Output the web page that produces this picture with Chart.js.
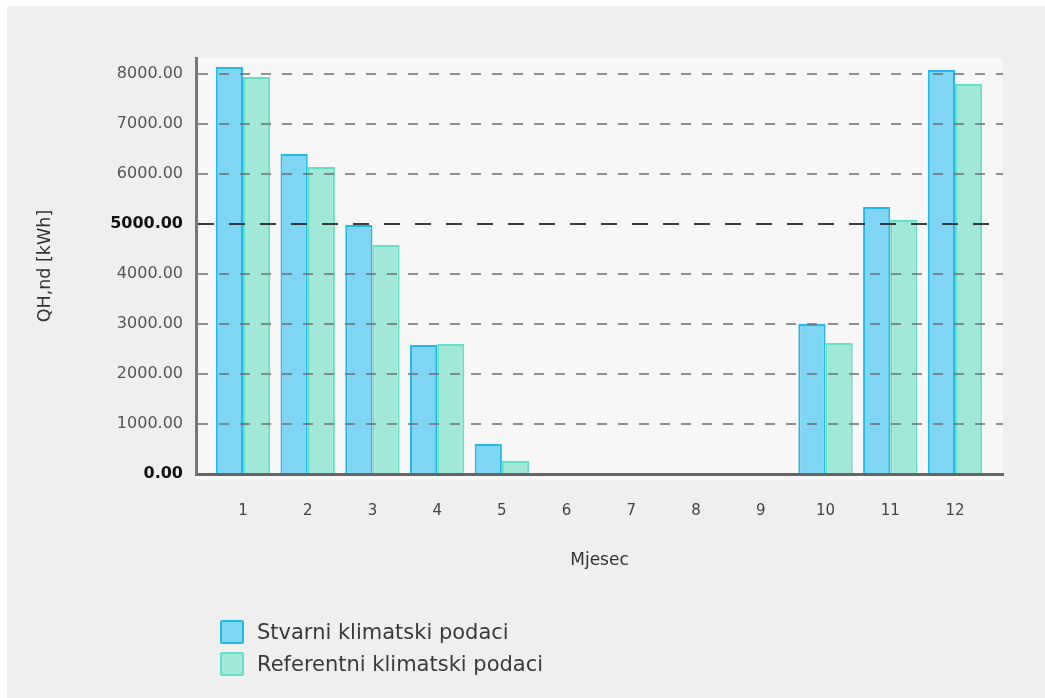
<!DOCTYPE html>
<html>
<head>
<meta charset="utf-8">
<script src="https://cdn.jsdelivr.net/npm/chart.js@4.4.1/dist/chart.umd.min.js"></script>
<style>
  html, body { margin: 0; padding: 0; background: #ffffff; }
  #wrap { position: relative; width: 1045px; height: 698px; overflow: hidden; }
  #panel { position: absolute; left: 7px; top: 6px; width: 1038px; height: 692px; background: #efefef; }
  #chart { position: absolute; left: 0; top: 0; }
  #legend { position: absolute; left: 220px; top: 616px; font-family: "DejaVu Sans", sans-serif; font-size: 21px; color: #3a3a3a; }
  .item { display: flex; align-items: center; height: 32px; }
  .box { width: 20px; height: 20px; border: 2px solid; margin-right: 13px; border-radius: 2px; box-sizing: content-box; }
</style>
</head>
<body>
<div id="wrap">
  <div id="panel"></div>
  <canvas id="chart" width="1045" height="698"></canvas>
  <div id="legend"></div>
</div>
<script>
const months = [1, 2, 3, 4, 5, 6, 7, 8, 9, 10, 11, 12];
const seriesNames = ["Stvarni klimatski podaci", "Referentni klimatski podaci"];
const stvarni = [8140, 6400, 4980, 2580, 600, 0, 0, 0, 0, 3000, 5340, 8080];
const referentni = [7940, 6140, 4580, 2600, 260, 0, 0, 0, 0, 2620, 5080, 7800];
const yTicks = [0, 1000, 2000, 3000, 4000, 5000, 6000, 7000, 8000];
const yTitle = "QH,nd [kWh]";
const xTitle = "Mjesec";

const fills = ["#7fd5f4", "#a2e8d9"];
const borders = ["#22b9ea", "#62e0c4"];

const tv = c => (c && c.tick) ? c.tick.value : null;

const bgPlugin = {
  id: 'plotBg',
  beforeDraw(chart) {
    const { ctx, chartArea: a } = chart;
    ctx.save();
    ctx.fillStyle = '#f7f7f7';
    ctx.fillRect(a.left, a.top, a.right - a.left, a.bottom - a.top + 6);
    ctx.restore();
  }
};

const ctx = document.getElementById('chart').getContext('2d');
const chart = new Chart(ctx, {
  type: 'bar',
  data: {
    datasets: [
      { label: seriesNames[0], data: months.map((m, i) => ({ x: m, y: stvarni[i] })),
        backgroundColor: fills[0], borderColor: borders[0], borderWidth: 2,
        categoryPercentage: 0.84, barPercentage: 1.0 },
      { label: seriesNames[1], data: months.map((m, i) => ({ x: m, y: referentni[i] })),
        backgroundColor: fills[1], borderColor: borders[1], borderWidth: 2,
        categoryPercentage: 0.84, barPercentage: 1.0 }
    ]
  },
  plugins: [bgPlugin],
  options: {
    responsive: false,
    animation: false,
    events: [],
    layout: { padding: { left: 0, right: 42, top: 58, bottom: 127 } },
    plugins: { legend: { display: false }, tooltip: { enabled: false } },
    scales: {
      x: {
        type: 'linear',
        offset: false,
        min: 0.274,
        max: 12.742,
        afterBuildTicks(scale) { scale.ticks = months.map(v => ({ value: v })); },
        afterFit(scale) { scale.height = 97; },
        grid: { display: false, drawTicks: false },
        border: { display: true, color: '#666', width: 3, z: 2 },
        ticks: { padding: 28, color: '#444', font: { family: 'DejaVu Sans', size: 15 }, maxRotation: 0,
                 callback: v => String(v) },
        title: { display: true, text: xTitle, color: '#333', font: { family: 'DejaVu Sans', size: 17 },
                 padding: { top: 0, bottom: 0 } }
      },
      y: {
        min: 0,
        max: 8320,
        afterBuildTicks(scale) { scale.ticks = yTicks.map(v => ({ value: v })); },
        afterFit(scale) { scale.width = 196; },
        grid: {
          z: 1,
          drawTicks: false,
          color: c => tv(c) === 0 ? 'rgba(0,0,0,0)' : (tv(c) === 5000 ? 'rgba(40,40,40,0.9)' : 'rgba(110,110,110,0.75)'),
          lineWidth: 2
        },
        border: {
          display: true, color: '#777', width: 3, z: 2,
          dash: c => tv(c) === 5000 ? [16, 15] : [10, 11]
        },
        ticks: {
          padding: 13,
          color: c => (tv(c) === 5000 || tv(c) === 0) ? '#111' : '#555',
          font: c => ({ family: 'DejaVu Sans', size: 16, weight: (tv(c) === 5000 || tv(c) === 0) ? 'bold' : 'normal' }),
          callback: v => Number(v).toFixed(2)
        },
        title: { display: true, text: yTitle, color: '#333', font: { family: 'DejaVu Sans', size: 17.5 },
                 padding: { top: 35, bottom: 0 } }
      }
    }
  }
});

const lg = document.getElementById('legend');
seriesNames.forEach((name, i) => {
  const d = document.createElement('div');
  d.className = 'item';
  d.innerHTML = '<span class="box" style="background:' + fills[i] + ';border-color:' + borders[i] + '"></span><span>' + name + '</span>';
  lg.appendChild(d);
});
</script>
</body>
</html>
